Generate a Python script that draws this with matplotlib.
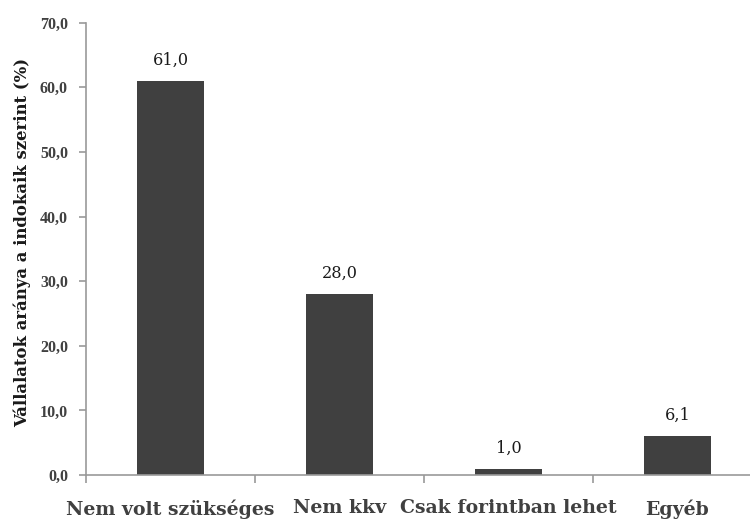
import matplotlib.pyplot as plt
import matplotlib as mpl

categories = ["Nem volt szükséges", "Nem kkv", "Csak forintban lehet", "Egyéb"]
values = [61.0, 28.0, 1.0, 6.1]
yticks = [0, 10, 20, 30, 40, 50, 60, 70]

mpl.rcParams['font.family'] = 'DejaVu Serif'

fig = plt.figure(figsize=(7.5, 5.19), dpi=100)
# axis runs past the right edge, as in the cropped original
ax = fig.add_axes([86/750, 44/519, 676/750, 452.3/519])

x = list(range(len(categories)))
ax.bar(x, values, width=0.4, color='#404040', zorder=2)
for xi, v in zip(x, values):
    ax.text(xi, v + 2.5, f"{v:.1f}".replace('.', ','), ha='center', va='baseline',
            fontsize=11.6, color='#1a1a1a')

ax.set_xlim(-0.5, 3.5)
ax.set_ylim(0, 70)
ax.set_yticks(yticks)
ax.set_yticklabels([f"{t:.1f}".replace('.', ',') for t in yticks],
                   fontsize=11.5, fontweight='bold', family='Liberation Serif', color='#404040')
ax.set_xticks([-0.5, 0.5, 1.5, 2.5, 3.5])
ax.set_xticklabels([])
ax.set_xticks(x, minor=True)
ax.set_xticklabels(categories, minor=True, fontsize=13.6, fontweight='bold', color='#404040')
ax.tick_params(axis='x', which='minor', length=0, pad=17.5)
ax.tick_params(axis='x', which='major', length=6, color='#999999', direction='out', width=1.2)
ax.tick_params(axis='y', length=5, color='#999999', direction='out', pad=8, width=1.2)

for s in ['top', 'right']:
    ax.spines[s].set_visible(False)
for s in ['left', 'bottom']:
    ax.spines[s].set_color('#999999')
    ax.spines[s].set_linewidth(1.2)

ax.set_ylabel("Vállalatok aránya a indokaik szerint (%)", fontsize=11.9, fontweight='bold',
              color='#1a1a1a')
ax.yaxis.set_label_coords(-0.081, 0.515)

fig.savefig("out.png", dpi=100)
